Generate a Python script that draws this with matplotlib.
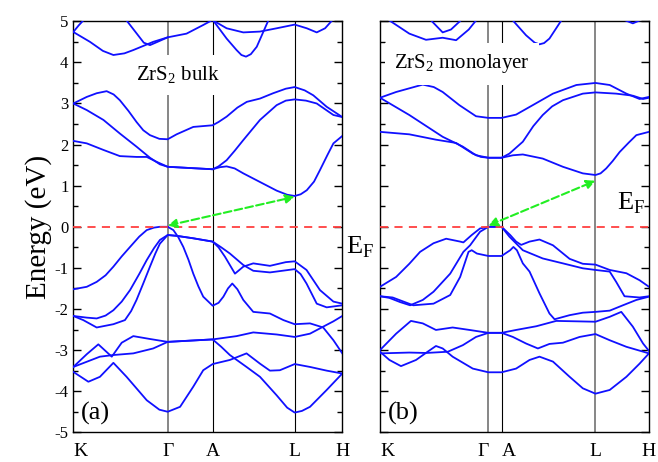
import matplotlib
matplotlib.use('Agg')
import matplotlib.pyplot as plt

plt.rcParams['font.family'] = ['Liberation Serif', 'DejaVu Serif']
plt.rcParams['mathtext.fontset'] = 'custom'
plt.rcParams['mathtext.rm'] = 'Liberation Serif'

# high-symmetry points (fraction of path length)
bulk_kpts = [0.0, 0.351, 0.518, 0.823, 1.0]
bulk_klabels = ['K', '\u0393', 'A', 'L', 'H']
mono_kpts = [0.0, 0.403, 0.452, 0.801, 1.0]
mono_klabels = ['K', '\u0393', 'A', 'L', 'H']

# ZrS2 bulk bands: (k, E)
bulk_conduction = [
    [(0, 2.09), (0.050, 2.03), (0.112, 1.87), (0.173, 1.72), (0.235, 1.70), (0.273, 1.70),
     (0.310, 1.58), (0.351, 1.46), (0.434, 1.43), (0.518, 1.40), (0.545, 1.45), (0.570, 1.47),
     (0.600, 1.42), (0.632, 1.30), (0.694, 1.09), (0.756, 0.88), (0.795, 0.78), (0.823, 0.75),
     (0.845, 0.79), (0.868, 0.89), (0.895, 1.10), (0.917, 1.38), (0.945, 1.75), (0.967, 2.03),
     (1.0, 2.21)],
    [(0, 3.0), (0.050, 2.84), (0.112, 2.60), (0.173, 2.27), (0.235, 1.95), (0.285, 1.68),
     (0.322, 1.52), (0.351, 1.46), (0.434, 1.43), (0.518, 1.40), (0.540, 1.47), (0.570, 1.62),
     (0.600, 1.85), (0.632, 2.11), (0.694, 2.60), (0.756, 2.96), (0.790, 3.07), (0.823, 3.10),
     (0.865, 3.07), (0.905, 3.0), (0.967, 2.72), (1.0, 2.67)],
    [(0, 3.0), (0.050, 3.16), (0.087, 3.25), (0.124, 3.30), (0.150, 3.22), (0.173, 3.08),
     (0.205, 2.82), (0.235, 2.55), (0.260, 2.35), (0.285, 2.23), (0.320, 2.14), (0.351, 2.13),
     (0.384, 2.25), (0.446, 2.43), (0.518, 2.47), (0.540, 2.55), (0.570, 2.68), (0.610, 2.90),
     (0.645, 3.04), (0.694, 3.12), (0.743, 3.25), (0.790, 3.36), (0.823, 3.40), (0.860, 3.32),
     (0.892, 3.20), (0.942, 2.92), (1.0, 2.67)],
    [(0, 4.74), (0.062, 4.50), (0.110, 4.28), (0.149, 4.18), (0.190, 4.22), (0.223, 4.30),
     (0.297, 4.50), (0.351, 4.61), (0.421, 4.70), (0.483, 4.91), (0.514, 5.02)],
    [(0, 4.74), (0.02, 4.90), (0.037, 5.02)],
    [(0.198, 5.02), (0.236, 4.70), (0.262, 4.48), (0.285, 4.42), (0.320, 4.52), (0.351, 4.61)],
    [(0.520, 5.02), (0.570, 4.58), (0.607, 4.30), (0.625, 4.18), (0.642, 4.14), (0.660, 4.20),
     (0.682, 4.38), (0.725, 5.02)],
    [(0.520, 5.02), (0.570, 4.83), (0.632, 4.73), (0.694, 4.75), (0.756, 4.83), (0.823, 4.92),
     (0.868, 4.83), (0.905, 4.73), (0.936, 4.83), (0.962, 5.02)],
]
bulk_valence = [
    [(0, -1.52), (0.050, -1.46), (0.087, -1.34), (0.120, -1.18), (0.149, -0.97), (0.180, -0.72),
     (0.211, -0.49), (0.245, -0.24), (0.273, -0.08), (0.300, -0.02), (0.322, 0.0), (0.351, 0.0),
     (0.372, -0.08), (0.390, -0.25), (0.409, -0.49), (0.428, -0.80), (0.446, -1.14), (0.465, -1.45),
     (0.483, -1.70), (0.518, -1.92), (0.540, -1.85), (0.558, -1.70), (0.575, -1.50), (0.591, -1.38),
     (0.610, -1.52), (0.632, -1.78), (0.669, -2.07), (0.731, -2.11), (0.781, -2.27), (0.823, -2.37),
     (0.880, -2.35), (0.929, -2.45), (0.967, -2.76), (1.0, -3.08)],
    [(0, -2.17), (0.050, -2.21), (0.087, -2.23), (0.120, -2.16), (0.149, -2.03), (0.180, -1.82),
     (0.211, -1.54), (0.245, -1.15), (0.273, -0.81), (0.300, -0.52), (0.322, -0.32), (0.351, -0.20),
     (0.384, -0.22), (0.446, -0.28), (0.518, -0.36), (0.540, -0.50), (0.564, -0.73), (0.601, -1.14),
     (0.632, -0.97), (0.669, -0.89), (0.731, -0.95), (0.790, -0.86), (0.823, -0.84), (0.867, -1.05),
     (0.917, -1.54), (0.967, -1.82), (1.0, -1.87)],
    [(0, -2.17), (0.037, -2.27), (0.087, -2.45), (0.149, -2.37), (0.192, -2.27), (0.215, -2.05),
     (0.235, -1.78), (0.260, -1.38), (0.285, -0.97), (0.305, -0.65), (0.322, -0.41), (0.351, -0.20),
     (0.384, -0.22), (0.446, -0.28), (0.518, -0.36), (0.550, -0.50), (0.582, -0.65), (0.632, -0.93),
     (0.669, -1.07), (0.731, -1.11), (0.823, -1.03), (0.845, -1.15), (0.867, -1.38), (0.905, -1.87),
     (0.942, -1.96), (1.0, -1.91)],
    [(0, -3.41), (0.050, -3.10), (0.093, -2.86), (0.143, -3.16), (0.180, -2.82), (0.223, -2.66),
     (0.285, -2.73), (0.351, -2.80), (0.434, -2.77), (0.518, -2.74), (0.607, -2.66), (0.669, -2.57),
     (0.756, -2.62), (0.823, -2.68), (0.880, -2.60), (0.929, -2.43), (0.967, -2.30), (1.0, -2.17)],
    [(0, -3.41), (0.099, -3.16), (0.149, -3.12), (0.223, -3.08), (0.297, -2.96), (0.351, -2.80),
     (0.434, -2.77), (0.518, -2.74), (0.550, -2.92), (0.582, -3.12), (0.644, -3.41), (0.694, -3.65),
     (0.756, -4.10), (0.795, -4.40), (0.823, -4.52), (0.850, -4.48), (0.880, -4.38), (0.942, -3.97),
     (1.0, -3.57)],
    [(0, -3.53), (0.056, -3.77), (0.099, -3.65), (0.149, -3.31), (0.198, -3.65), (0.273, -4.22),
     (0.320, -4.45), (0.351, -4.50), (0.397, -4.38), (0.446, -3.89), (0.483, -3.49), (0.518, -3.34),
     (0.582, -3.24), (0.644, -3.08), (0.694, -3.33), (0.731, -3.50), (0.768, -3.49), (0.823, -3.34),
     (0.880, -3.41), (0.942, -3.50), (1.0, -3.57)],
]

# ZrS2 monolayer bands
mono_conduction = [
    [(0, 2.31), (0.109, 2.25), (0.208, 2.12), (0.283, 2.04), (0.345, 1.78), (0.375, 1.70),
     (0.403, 1.68), (0.452, 1.68), (0.494, 1.74), (0.531, 1.76), (0.605, 1.66), (0.680, 1.46),
     (0.754, 1.30), (0.801, 1.26), (0.820, 1.30), (0.841, 1.42), (0.865, 1.60), (0.891, 1.82),
     (0.925, 2.05), (0.953, 2.23), (1.0, 2.31)],
    [(0, 3.14), (0.109, 2.72), (0.233, 2.19), (0.308, 1.95), (0.357, 1.74), (0.403, 1.68),
     (0.452, 1.68), (0.481, 1.78), (0.531, 2.07), (0.570, 2.45), (0.605, 2.72), (0.640, 2.93),
     (0.680, 3.08), (0.754, 3.24), (0.801, 3.27), (0.878, 3.24), (0.940, 3.19), (0.978, 3.11),
     (1.0, 3.14)],
    [(0, 3.14), (0.060, 3.28), (0.159, 3.46), (0.200, 3.40), (0.233, 3.28), (0.295, 2.96),
     (0.357, 2.69), (0.403, 2.65), (0.452, 2.65), (0.506, 2.73), (0.568, 2.96), (0.643, 3.24),
     (0.730, 3.45), (0.801, 3.50), (0.854, 3.45), (0.916, 3.24), (0.965, 3.11), (1.0, 3.16)],
    [(0.035, 5.02), (0.109, 4.70), (0.171, 4.55), (0.233, 4.60), (0.283, 4.54), (0.330, 4.80),
     (0.357, 5.02)],
    [(0.190, 5.02), (0.233, 4.73), (0.264, 4.80), (0.300, 5.02)],
    [(0.494, 5.02), (0.543, 4.66), (0.575, 4.48), (0.593, 4.44), (0.610, 4.47), (0.630, 4.58),
     (0.674, 5.02)],
    [(0.913, 5.02), (0.940, 4.95), (0.965, 5.02)],
]
mono_valence = [
    [(0, -1.46), (0.060, -1.22), (0.109, -0.90), (0.149, -0.61), (0.199, -0.40), (0.246, -0.29),
     (0.298, -0.36), (0.310, -0.38), (0.341, -0.20), (0.372, -0.04), (0.403, 0.0), (0.452, 0.0),
     (0.484, -0.20), (0.506, -0.36), (0.525, -0.44), (0.556, -0.36), (0.593, -0.31), (0.643, -0.45),
     (0.705, -0.78), (0.754, -0.90), (0.801, -0.92), (0.854, -1.05), (0.916, -1.13), (0.965, -1.30),
     (1.0, -1.46)],
    [(0, -1.69), (0.035, -1.73), (0.074, -1.83), (0.112, -1.91), (0.159, -1.78), (0.199, -1.58),
     (0.261, -1.14), (0.310, -0.61), (0.335, -0.45), (0.372, -0.12), (0.403, 0.0), (0.452, 0.0),
     (0.481, -0.24), (0.531, -0.57), (0.605, -0.77), (0.680, -0.89), (0.754, -1.01), (0.801, -1.05),
     (0.854, -1.09), (0.878, -1.34), (0.909, -1.69), (0.965, -1.72), (1.0, -1.69)],
    [(0, -1.69), (0.047, -1.72), (0.124, -1.91), (0.199, -1.87), (0.261, -1.66), (0.298, -1.22),
     (0.329, -0.61), (0.341, -0.57), (0.360, -0.65), (0.403, -0.71), (0.452, -0.71), (0.484, -0.57),
     (0.496, -0.49), (0.509, -0.57), (0.531, -0.89), (0.556, -1.09), (0.593, -1.62), (0.630, -2.11),
     (0.649, -2.25), (0.705, -2.15), (0.754, -2.09), (0.801, -2.07), (0.854, -2.04), (0.903, -1.91),
     (0.953, -1.78), (1.0, -1.70)],
    [(0, -3.0), (0.060, -2.60), (0.115, -2.29), (0.159, -2.35), (0.208, -2.51), (0.270, -2.45),
     (0.333, -2.51), (0.403, -2.58), (0.452, -2.58), (0.506, -2.51), (0.581, -2.42), (0.655, -2.29),
     (0.730, -2.30), (0.801, -2.31), (0.854, -2.19), (0.897, -2.07), (0.940, -2.43), (0.978, -2.84),
     (1.0, -3.02)],
    [(0, -3.08), (0.109, -3.06), (0.171, -3.07), (0.252, -3.04), (0.308, -2.88), (0.357, -2.68),
     (0.403, -2.58), (0.452, -2.58), (0.494, -2.68), (0.543, -2.84), (0.587, -2.96), (0.630, -2.85),
     (0.680, -2.82), (0.742, -2.68), (0.801, -2.61), (0.854, -2.76), (0.916, -2.92), (1.0, -3.08)],
    [(0, -3.04), (0.035, -3.24), (0.078, -3.39), (0.134, -3.24), (0.177, -3.04), (0.208, -2.90),
     (0.233, -2.96), (0.270, -3.16), (0.345, -3.45), (0.403, -3.54), (0.452, -3.54), (0.506, -3.45),
     (0.556, -3.24), (0.593, -3.16), (0.643, -3.28), (0.705, -3.65), (0.754, -3.93), (0.801, -4.06),
     (0.854, -3.97), (0.916, -3.65), (0.965, -3.33), (1.0, -3.08)],
]

# indirect gap arrows: (k, E) start -> end
bulk_arrow = [(0.351, 0.03), (0.823, 0.73)]
mono_arrow = [(0.403, 0.03), (0.801, 1.12)]

BLUE = '#1010ff'

fig = plt.figure(figsize=(6.58, 4.62), dpi=100)
ax1 = fig.add_axes([0.1114, 0.0643, 0.4088, 0.8896])
ax2 = fig.add_axes([0.5775, 0.0643, 0.4088, 0.8896])


def draw_panel(ax, kpts, klabels, bands, arrow, line_colors):
    ax.set_xlim(0, 1)
    ax.set_ylim(-5, 5)
    for kp, c in zip(kpts[1:-1], line_colors):
        ax.axvline(kp, color=c, lw=1.1 if c != 'black' else 0.8, zorder=1)
    for band in bands:
        ks = [p[0] for p in band]
        es = [p[1] for p in band]
        ax.plot(ks, es, color=BLUE, lw=1.3, zorder=3, solid_joinstyle='round')
    ax.axhline(0, color='#ff4040', lw=1.3, ls=(0, (4.5, 3.5)), zorder=4)
    ax.annotate('', xy=arrow[1], xytext=arrow[0],
                arrowprops=dict(arrowstyle='<|-|>', color='#22ee22', lw=1.5, ls='--',
                                mutation_scale=13, shrinkA=0, shrinkB=0), zorder=5)
    ax.set_xticks(kpts)
    ax.set_xticklabels(klabels, fontsize=14)
    ax.tick_params(axis='x', length=0, pad=8)
    ax.set_yticks(range(-5, 6))
    ax.set_yticks([i + 0.5 for i in range(-5, 5)], minor=True)
    ax.tick_params(axis='y', which='major', direction='in', length=6, width=1,
                   left=True, right=True, labelsize=12)
    ax.tick_params(axis='y', which='minor', direction='in', length=3.5, width=1,
                   left=True, right=True)
    for s in ax.spines.values():
        s.set_linewidth(1.0)


draw_panel(ax1, bulk_kpts, bulk_klabels, bulk_conduction + bulk_valence, bulk_arrow,
           ['#666666', 'black', 'black'])
draw_panel(ax2, mono_kpts, mono_klabels, mono_conduction + mono_valence, mono_arrow,
           ['#666666', 'black', '#666666'])

ax1.set_yticklabels([str(i) for i in range(-5, 6)])
ax2.set_yticklabels([])
ax1.set_ylabel('Energy (eV)', fontsize=21, labelpad=2)

labs = ax1.get_xticklabels()
labs[0].set_ha('left')
labs = ax2.get_xticklabels()
labs[0].set_ha('left')
labs[1].set_ha('right')
labs[2].set_ha('left')

ax1.text(0.389, 3.69, 'ZrS$_\\mathregular{2}$ bulk', fontsize=15, ha='center', va='center',
         zorder=6, bbox=dict(boxstyle='square,pad=0.45', fc='white', ec='none'))
ax2.text(0.305, 3.97, 'ZrS$_\\mathregular{2}$ monolayer', fontsize=15, ha='center', va='center',
         zorder=6, bbox=dict(boxstyle='square,pad=0.45', fc='white', ec='none'))

ax1.text(0.03, -4.55, '(a)', fontsize=19, ha='left', va='center')
ax2.text(0.03, -4.55, '(b)', fontsize=19, ha='left', va='center')

ax1.text(1.015, -0.5, 'E$_\\mathregular{F}$', fontsize=19, ha='left', va='center',
         transform=ax1.get_yaxis_transform(), clip_on=False)
ax2.text(0.985, 0.57, 'E$_\\mathregular{F}$', fontsize=19, ha='right', va='center',
         transform=ax2.get_yaxis_transform())

fig.savefig('out.png', dpi=100)
